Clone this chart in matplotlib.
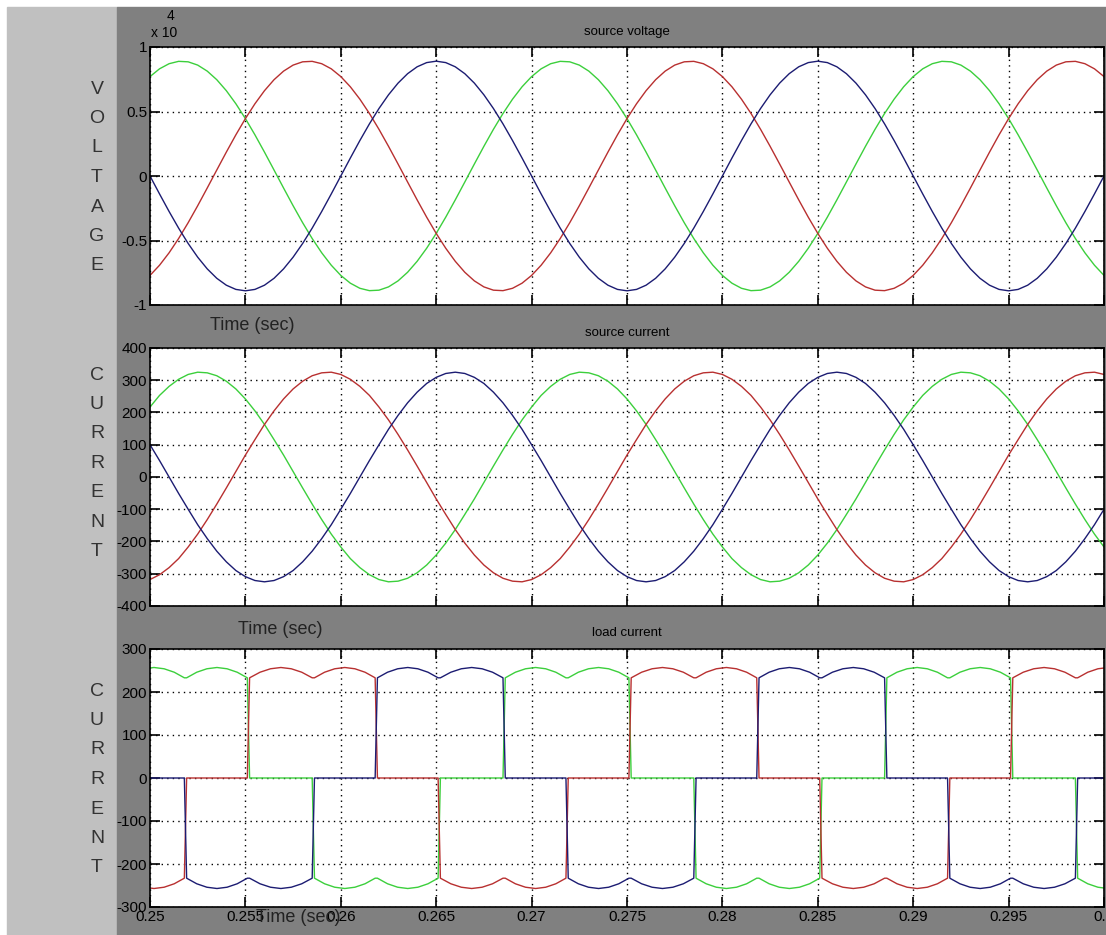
import numpy as np
import matplotlib
matplotlib.use("Agg")
import matplotlib.pyplot as plt
from matplotlib.patches import Rectangle

# -----------------------------
# 3-phase scope traces
# -----------------------------

# sample times for the sine traces, 0.5 ms apart
t_sine = np.linspace(0.25, 0.30, 101)

# source voltage (V)
v_red = [-7707, -6916, -5955, -4847, -3620, -2303, -930, 465, 1850, 3190,
         4450, 5601, 6614, 7464, 8130, 8597, 8851, 8888, 8705, 8309,
         7707, 6916, 5955, 4847, 3620, 2303, 930, -465, -1850, -3190,
         -4450, -5601, -6614, -7464, -8130, -8597, -8851, -8888, -8705, -8309,
         -7707, -6916, -5955, -4847, -3620, -2303, -930, 465, 1850, 3190,
         4450, 5601, 6614, 7464, 8130, 8597, 8851, 8888, 8705, 8309,
         7707, 6916, 5955, 4847, 3620, 2303, 930, -465, -1850, -3190,
         -4450, -5601, -6614, -7464, -8130, -8597, -8851, -8888, -8705, -8309,
         -7707, -6916, -5955, -4847, -3620, -2303, -930, 465, 1850, 3190,
         4450, 5601, 6614, 7464, 8130, 8597, 8851, 8888, 8705, 8309,
         7707]
v_green = [7707, 8309, 8705, 8888, 8851, 8597, 8130, 7464, 6614, 5601,
           4450, 3190, 1850, 465, -930, -2303, -3620, -4847, -5955, -6916,
           -7707, -8309, -8705, -8888, -8851, -8597, -8130, -7464, -6614, -5601,
           -4450, -3190, -1850, -465, 930, 2303, 3620, 4847, 5955, 6916,
           7707, 8309, 8705, 8888, 8851, 8597, 8130, 7464, 6614, 5601,
           4450, 3190, 1850, 465, -930, -2303, -3620, -4847, -5955, -6916,
           -7707, -8309, -8705, -8888, -8851, -8597, -8130, -7464, -6614, -5601,
           -4450, -3190, -1850, -465, 930, 2303, 3620, 4847, 5955, 6916,
           7707, 8309, 8705, 8888, 8851, 8597, 8130, 7464, 6614, 5601,
           4450, 3190, 1850, 465, -930, -2303, -3620, -4847, -5955, -6916,
           -7707]
v_blue = [0, -1392, -2750, -4041, -5231, -6293, -7200, -7930, -8465, -8791,
          -8900, -8791, -8465, -7930, -7200, -6293, -5231, -4041, -2750, -1392,
          0, 1392, 2750, 4041, 5231, 6293, 7200, 7930, 8465, 8791,
          8900, 8791, 8465, 7930, 7200, 6293, 5231, 4041, 2750, 1392,
          0, -1392, -2750, -4041, -5231, -6293, -7200, -7930, -8465, -8791,
          -8900, -8791, -8465, -7930, -7200, -6293, -5231, -4041, -2750, -1392,
          0, 1392, 2750, 4041, 5231, 6293, 7200, 7930, 8465, 8791,
          8900, 8791, 8465, 7930, 7200, 6293, 5231, 4041, 2750, 1392,
          0, -1392, -2750, -4041, -5231, -6293, -7200, -7930, -8465, -8791,
          -8900, -8791, -8465, -7930, -7200, -6293, -5231, -4041, -2750, -1392,
          0]

# source current (A)
i_red = [-318, -303, -281, -253, -217, -177, -132, -84, -34, 17,
         68, 116, 163, 205, 242, 273, 297, 314, 323, 325,
         318, 303, 281, 253, 217, 177, 132, 84, 34, -17,
         -68, -116, -163, -205, -242, -273, -297, -314, -323, -325,
         -318, -303, -281, -253, -217, -177, -132, -84, -34, 17,
         68, 116, 163, 205, 242, 273, 297, 314, 323, 325,
         318, 303, 281, 253, 217, 177, 132, 84, 34, -17,
         -68, -116, -163, -205, -242, -273, -297, -314, -323, -325,
         -318, -303, -281, -253, -217, -177, -132, -84, -34, 17,
         68, 116, 163, 205, 242, 273, 297, 314, 323, 325,
         318]
i_green = [217, 253, 281, 303, 318, 325, 323, 314, 297, 273,
           242, 205, 163, 116, 68, 17, -34, -84, -132, -177,
           -217, -253, -281, -303, -318, -325, -323, -314, -297, -273,
           -242, -205, -163, -116, -68, -17, 34, 84, 132, 177,
           217, 253, 281, 303, 318, 325, 323, 314, 297, 273,
           242, 205, 163, 116, 68, 17, -34, -84, -132, -177,
           -217, -253, -281, -303, -318, -325, -323, -314, -297, -273,
           -242, -205, -163, -116, -68, -17, 34, 84, 132, 177,
           217, 253, 281, 303, 318, 325, 323, 314, 297, 273,
           242, 205, 163, 116, 68, 17, -34, -84, -132, -177,
           -217]
i_blue = [100, 51, 0, -51, -100, -148, -191, -230, -263, -290,
          -309, -321, -325, -321, -309, -290, -263, -230, -191, -148,
          -100, -51, 0, 51, 100, 148, 191, 230, 263, 290,
          309, 321, 325, 321, 309, 290, 263, 230, 191, 148,
          100, 51, 0, -51, -100, -148, -191, -230, -263, -290,
          -309, -321, -325, -321, -309, -290, -263, -230, -191, -148,
          -100, -51, 0, 51, 100, 148, 191, 230, 263, 290,
          309, 321, 325, 321, 309, 290, 263, 230, 191, 148,
          100, 51, 0, -51, -100, -148, -191, -230, -263, -290,
          -309, -321, -325, -321, -309, -290, -263, -230, -191, -148,
          -100]

# load current: commutation instants and conduction state of each phase
load_switch_t = [0.2485, 0.2518, 0.2551, 0.2585, 0.2618, 0.2651, 0.2685, 0.2718,
                 0.2751, 0.2785, 0.2818, 0.2851, 0.2885, 0.2918, 0.2951, 0.2985, 0.3018]
load_red_state = [-1, 0, 1, 1, 0, -1, -1, 0, 1, 1, 0, -1, -1, 0, 1, 1]
load_green_state = [1, 1, 0, -1, -1, 0, 1, 1, 0, -1, -1, 0, 1, 1, 0, -1]
load_blue_state = [0, -1, -1, 0, 1, 1, 0, -1, -1, 0, 1, 1, 0, -1, -1, 0]
# current magnitude across one 60 deg interval (6-pulse ripple)
ripple_frac = [0, 1 / 6, 2 / 6, 3 / 6, 4 / 6, 5 / 6, 1]
ripple_mag = [233, 246, 254, 257, 254, 246, 233]
commutation_dt = 0.00012

x_ticks = [0.25, 0.255, 0.26, 0.265, 0.27, 0.275, 0.28, 0.285, 0.29, 0.295, 0.3]
x_ticklabels = ["0.25", "0.255", "0.26", "0.265", "0.27", "0.275",
                "0.28", "0.285", "0.29", "0.295", "0.3"]

RED = "#b83030"
GREEN = "#3ccf3c"
BLUE = "#1c1c72"

FONT = ["Liberation Sans Narrow", "Liberation Sans", "DejaVu Sans"]
plt.rcParams["font.family"] = FONT


def load_trace(states):
    ts, ys = [], []
    for i, s in enumerate(states):
        t0 = load_switch_t[i] + commutation_dt
        t1 = load_switch_t[i + 1]
        for f, m in zip(ripple_frac, ripple_mag):
            ts.append(t0 + f * (t1 - t0))
            ys.append(s * m)
    return ts, ys


W, H = 1106, 935


def fx(px):
    return px / W


def fy(py):
    return 1 - py / H


fig = plt.figure(figsize=(W / 100, H / 100), dpi=100, facecolor="white")

# scope backgrounds (behind the axes)
fig.patches.append(Rectangle((fx(7), 0), (117 - 7) / W, (H - 7) / H,
                             transform=fig.transFigure, color="#c0c0c0", zorder=-10))
fig.patches.append(Rectangle((fx(117), 0), (W - 117) / W, (H - 7) / H,
                             transform=fig.transFigure, color="#808080", zorder=-10))


def make_axes(top_px):
    ax = fig.add_axes([fx(150), fy(top_px + 258), (1104 - 150) / W, 258 / H])
    ax.set_facecolor("white")
    ax.set_xlim(0.25, 0.3)
    ax.set_xticks(x_ticks)
    ax.set_xticklabels(x_ticklabels)
    ax.grid(True, color="black", linestyle=(0, (1, 3)), linewidth=1.0)
    ax.tick_params(direction="in", length=7, width=1.2, top=True, right=True,
                   labelsize=11, pad=2, colors="black")
    for sp in ax.spines.values():
        sp.set_linewidth(1.2)
        sp.set_color("black")
    return ax


# 1. source voltage
ax1 = make_axes(47)
ax1.plot(t_sine, np.array(v_green) / 1e4, color=GREEN, lw=1.0)
ax1.plot(t_sine, np.array(v_red) / 1e4, color=RED, lw=1.0)
ax1.plot(t_sine, np.array(v_blue) / 1e4, color=BLUE, lw=1.0)
ax1.set_ylim(-1, 1)
ax1.set_yticks([-1, -0.5, 0, 0.5, 1])
ax1.set_yticklabels(["-1", "-0.5", "0", "0.5", "1"])
ax1.tick_params(labelbottom=False)
fig.text(fx(151), fy(33), "x 10", fontsize=10, ha="left", va="center")
fig.text(fx(167), fy(16), "4", fontsize=10, ha="left", va="center")

# 2. source current
ax2 = make_axes(348)
ax2.plot(t_sine, i_green, color=GREEN, lw=1.0)
ax2.plot(t_sine, i_red, color=RED, lw=1.0)
ax2.plot(t_sine, i_blue, color=BLUE, lw=1.0)
ax2.set_ylim(-400, 400)
ax2.set_yticks([-400, -300, -200, -100, 0, 100, 200, 300, 400])
ax2.set_yticklabels(["-400", "-300", "-200", "-100", "0", "100", "200", "300", "400"])
ax2.tick_params(labelbottom=False)

# 3. load current
ax3 = make_axes(649)
for states, c in [(load_green_state, GREEN), (load_red_state, RED), (load_blue_state, BLUE)]:
    lt, ly = load_trace(states)
    ax3.plot(lt, ly, color=c, lw=1.0)
ax3.set_ylim(-300, 300)
ax3.set_yticks([-300, -200, -100, 0, 100, 200, 300])
ax3.set_yticklabels(["-300", "-200", "-100", "0", "100", "200", "300"])

# titles and "Time (sec)" labels
for y, s in [(32, "source voltage"), (333, "source current"), (633, "load current")]:
    fig.text(fx(627), fy(y), s, fontsize=9.5, ha="center", va="center")
for x, y in [(252, 326), (280, 630), (298, 918)]:
    fig.text(fx(x), fy(y), "Time (sec)", fontsize=13, ha="center", va="center",
             color="#222222")

# stacked y labels
for word, y0 in [("VOLTAGE", 89), ("CURRENT", 375), ("CURRENT", 691)]:
    for j, ch in enumerate(word):
        fig.text(fx(97), fy(y0 + 29.5 * j), ch, fontsize=14, ha="center",
                 va="center", color="#333333")

fig.savefig("out.png", dpi=100, facecolor="white")
